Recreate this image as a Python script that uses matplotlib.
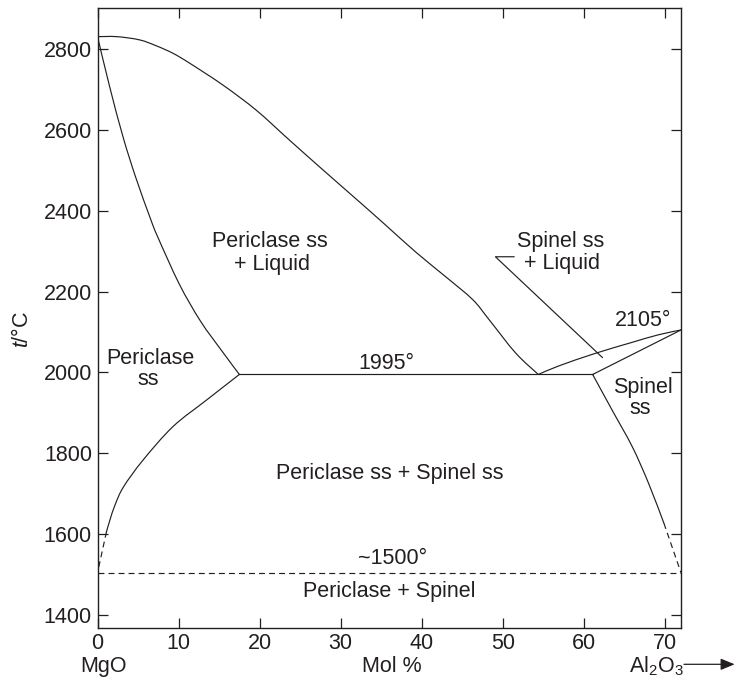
import matplotlib
matplotlib.use("Agg")
import matplotlib.pyplot as plt
from matplotlib.path import Path
from matplotlib.patches import PathPatch, FancyArrowPatch

plt.rcParams['font.family'] = ['Liberation Sans', 'DejaVu Sans']
plt.rcParams['mathtext.fontset'] = 'custom'
plt.rcParams['mathtext.rm'] = 'Liberation Sans'
plt.rcParams['mathtext.it'] = 'Liberation Sans:italic'

INK = '#231f20'
FS = 15.5

# ---- data (mol % Al2O3, temperature in deg C) ----
liq_mgo_x = [0, 2.4, 5.2, 7.3, 9.3, 11.4, 15.5, 19.6, 23.7, 27.8, 31.9, 35.4, 39.3, 43.0, 46.3, 48.3, 51.6, 54.4]
liq_mgo_t = [2830, 2830, 2822, 2807, 2789, 2764, 2710, 2648, 2574, 2501, 2429, 2367, 2297, 2236, 2180, 2131, 2048, 1995]

sol_per_x = [0, 1.5, 3.15, 4.7, 6.55, 7.45, 10.1, 12.7, 15.35, 17.5]
sol_per_t = [2830, 2706, 2582, 2483, 2379, 2334, 2218, 2127, 2053, 1995]

solv_per_x = [17.5, 13.4, 9.3, 5.6, 3.2, 2.17, 1.54, 1.1]
solv_per_t = [1995, 1931, 1866, 1783, 1717, 1673, 1636, 1606]
solv_per_dash_x = [1.1, 0]
solv_per_dash_t = [1606, 1505]

liq_sp_x = [54.4, 56.9, 61.4, 65.9, 69.2, 72]
liq_sp_t = [1995, 2016, 2047, 2074, 2093, 2105]

sol_sp_x = [61.1, 72]
sol_sp_t = [1995, 2105]

solv_sp_x = [61.1, 63.5, 66.0, 68.0, 69.9]
solv_sp_t = [1995, 1907, 1816, 1726, 1627]
solv_sp_dash_x = [69.9, 72]
solv_sp_dash_t = [1627, 1505]

eut_x = [17.5, 61.1]
eut_t = [1995, 1995]

sub_x = [0, 72]
sub_t = [1505, 1505]

leader_x = [51.4, 49.1, 62.3]
leader_t = [2286, 2286, 2037]

xticks = [0, 10, 20, 30, 40, 50, 60, 70]
yticks = [1400, 1600, 1800, 2000, 2200, 2400, 2600, 2800]

# region labels: (text, x, t)  baseline-anchored, centred
labels = [
    ("Periclase ss", 21.3, 2309),
    ("+ Liquid", 21.5, 2253),
    ("Spinel ss", 57.1, 2309),
    ("+ Liquid", 57.3, 2255),
    ("2105°", 67.3, 2115),
    ("Spinel", 67.3, 1948),
    ("ss", 67.0, 1897),
    ("Periclase", 6.5, 2022),
    ("ss", 6.3, 1969),
    ("1995°", 35.7, 2008),
    ("Periclase ss + Spinel ss", 36.0, 1736),
    ("~1500°", 36.4, 1527),
    ("Periclase + Spinel", 36.0, 1445),
]


def smooth_path(xs, ys):
    """Cubic Bezier path through the read points (Catmull-Rom tangents)."""
    pts = list(zip(xs, ys))
    n = len(pts)
    verts = [pts[0]]
    codes = [Path.MOVETO]
    for i in range(n - 1):
        p0 = pts[i - 1] if i > 0 else pts[i]
        p1 = pts[i]
        p2 = pts[i + 1]
        p3 = pts[i + 2] if i + 2 < n else pts[i + 1]
        c1 = (p1[0] + (p2[0] - p0[0]) / 6.0, p1[1] + (p2[1] - p0[1]) / 6.0)
        c2 = (p2[0] - (p3[0] - p1[0]) / 6.0, p2[1] - (p3[1] - p1[1]) / 6.0)
        verts += [c1, c2, p2]
        codes += [Path.CURVE4] * 3
    return Path(verts, codes)


fig = plt.figure(figsize=(7.35, 6.85), dpi=100)
ax = fig.add_axes([0.1327, 0.0836, 0.9265 - 0.1327, 0.989 - 0.0836])

lw = 0.85
dash = (0, (5, 3.5))

for xs, ys in [(liq_mgo_x, liq_mgo_t), (sol_per_x, sol_per_t), (solv_per_x, solv_per_t),
               (liq_sp_x, liq_sp_t), (solv_sp_x, solv_sp_t)]:
    ax.add_patch(PathPatch(smooth_path(xs, ys), fill=False, edgecolor=INK, lw=lw,
                           capstyle='round', joinstyle='round'))

ax.plot(solv_per_dash_x, solv_per_dash_t, color=INK, lw=lw, ls=dash)
ax.plot(sol_sp_x, sol_sp_t, color=INK, lw=lw)
ax.plot(solv_sp_dash_x, solv_sp_dash_t, color=INK, lw=lw, ls=dash)
ax.plot(eut_x, eut_t, color=INK, lw=lw)
ax.plot(sub_x, sub_t, color=INK, lw=lw, ls=dash)
ax.plot(leader_x, leader_t, color=INK, lw=lw)

for txt, x, t in labels:
    ax.text(x, t, txt, ha='center', va='baseline', fontsize=FS, color=INK)

ax.set_xlim(0, 72)
ax.set_ylim(1369, 2902)
ax.set_xticks(xticks)
ax.set_yticks(yticks)
ax.tick_params(direction='in', length=7, width=0.9, top=True, right=True,
               labelsize=FS, labelcolor=INK, color=INK, pad=4)
for s in ax.spines.values():
    s.set_linewidth(1.0)
    s.set_color(INK)

# axis captions
fig.text(103 / 735, 1 - 672 / 685, "MgO", ha='center', va='baseline', fontsize=FS, color=INK)
fig.text(392 / 735, 1 - 672 / 685, "Mol %", ha='center', va='baseline', fontsize=FS, color=INK)
fig.text(629 / 735, 1 - 672 / 685, r"$\mathrm{Al_2O_3}$", ha='left', va='baseline', fontsize=FS, color=INK)
fig.text(22 / 735, 1 - 329 / 685, r"$\it{t}$/°C", ha='center', va='center', rotation=90,
         fontsize=FS, color=INK)
fig.patches.append(FancyArrowPatch(
    (684 / 735, 1 - 664.3 / 685), (0.9995, 1 - 664.3 / 685),
    transform=fig.transFigure, arrowstyle='-|>,head_length=0.85,head_width=0.35',
    mutation_scale=10, lw=0.9, color=INK, shrinkA=0, shrinkB=0))

fig.savefig("out.png", dpi=100)
